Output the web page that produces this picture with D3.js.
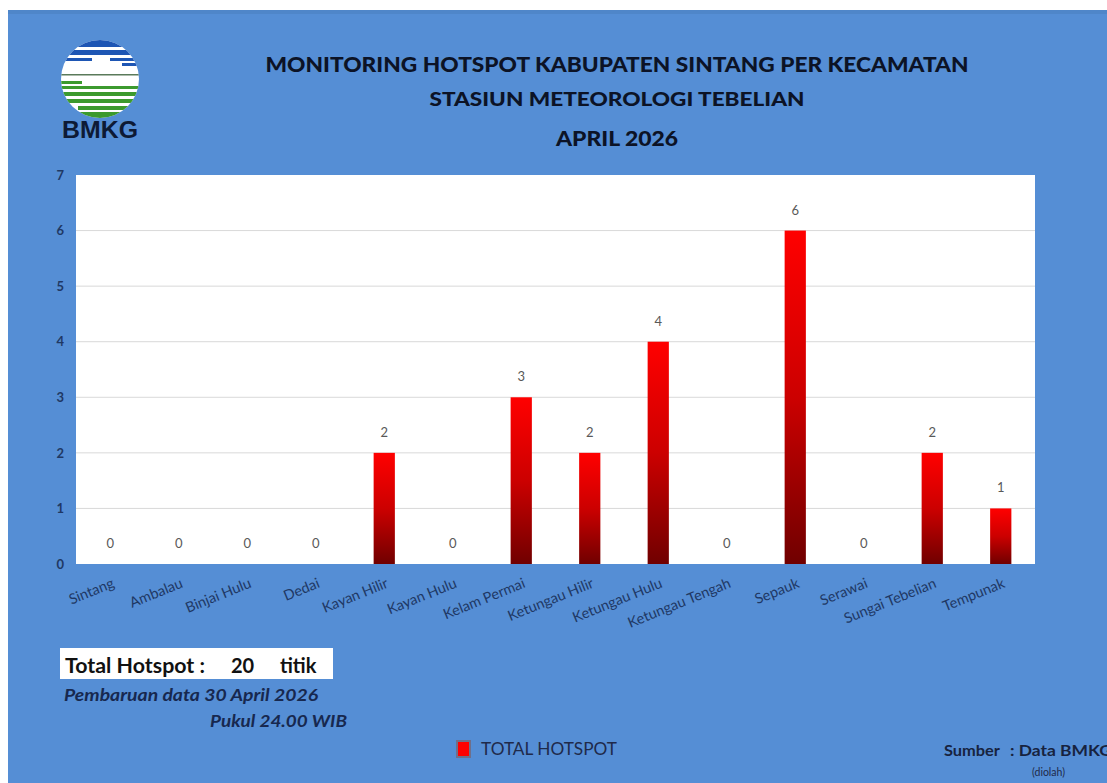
<!DOCTYPE html>
<html>
<head>
<meta charset="utf-8">
<script src="https://cdn.jsdelivr.net/npm/d3@7"></script>
<style>
  body { margin: 0; background: #fff; }
  text { font-family: Lato, "Open Sans", sans-serif; }
</style>
</head>
<body>
<div id="chart"></div>
<script>
// hotspot counts per kecamatan, April 2026
var categories = ["Sintang", "Ambalau", "Binjai Hulu", "Dedai", "Kayan Hilir", "Kayan Hulu",
                  "Kelam Permai", "Ketungau Hilir", "Ketungau Hulu", "Ketungau Tengah",
                  "Sepauk", "Serawai", "Sungai Tebelian", "Tempunak"];
var values = [0, 0, 0, 0, 2, 0, 3, 2, 4, 0, 6, 0, 2, 1];
var yTicks = [0, 1, 2, 3, 4, 5, 6, 7];
var titleLines = ["MONITORING HOTSPOT KABUPATEN SINTANG PER KECAMATAN",
                  "STASIUN METEOROLOGI TEBELIAN",
                  "APRIL 2026"];
var totalHotspot = d3.sum(values);

var W = 1107, H = 783;
var svg = d3.select("#chart").append("svg").attr("width", W).attr("height", H);

// blue panel
svg.append("rect").attr("x", 8).attr("y", 10).attr("width", W - 8).attr("height", H - 10)
   .attr("fill", "#558ed5");
svg.append("rect").attr("x", 8).attr("y", 10).attr("width", W - 8).attr("height", 4)
   .attr("fill", "#4f86c9");

var plot = {left: 76, top: 175, right: 1035, bottom: 564};

var x = d3.scaleBand().domain(categories).range([plot.left, plot.right]).paddingInner(0.69).paddingOuter(0.345);
var y = d3.scaleLinear().domain([0, 7]).range([plot.bottom, plot.top]);

var defs = svg.append("defs");
var grad = defs.append("linearGradient").attr("id", "barGrad")
  .attr("x1", 0).attr("y1", 0).attr("x2", 0).attr("y2", 1);
grad.append("stop").attr("offset", "0%").attr("stop-color", "#ff0000");
grad.append("stop").attr("offset", "50%").attr("stop-color", "#cc0000");
grad.append("stop").attr("offset", "100%").attr("stop-color", "#700000");

// plot area
svg.append("rect").attr("x", plot.left).attr("y", plot.top)
   .attr("width", plot.right - plot.left).attr("height", plot.bottom - plot.top)
   .attr("fill", "#fff");

svg.append("g").selectAll("line").data(yTicks.filter(function(d) { return d > 0 && d < 7; }))
  .enter().append("line")
  .attr("x1", plot.left).attr("x2", plot.right)
  .attr("y1", function(d) { return y(d); }).attr("y2", function(d) { return y(d); })
  .attr("stroke", "#d9d9d9").attr("stroke-width", 1);

// y axis labels
var yAxis = svg.append("g").attr("transform", "translate(" + plot.left + ",0)")
  .call(d3.axisLeft(y).tickValues(yTicks).tickSize(0).tickPadding(12).tickFormat(d3.format("d")));
yAxis.select(".domain").remove();
yAxis.selectAll("text").attr("fill", "#1f3864").attr("font-size", 13).attr("font-weight", "bold")
  .style("font-family", "Lato, sans-serif");

// bars
svg.append("g").selectAll("rect").data(values).enter().append("rect")
  .attr("x", function(d, i) { return x(categories[i]); })
  .attr("y", function(d) { return y(d); })
  .attr("width", x.bandwidth())
  .attr("height", function(d) { return y(0) - y(d); })
  .attr("fill", "url(#barGrad)");

// value labels
svg.append("g").selectAll("text").data(values).enter().append("text")
  .attr("x", function(d, i) { return x(categories[i]) + x.bandwidth() / 2; })
  .attr("y", function(d) { return y(d) - 16; })
  .attr("text-anchor", "middle")
  .attr("font-size", 13).attr("fill", "#595959")
  .text(function(d) { return d; });

// category labels
var xAxis = svg.append("g").attr("transform", "translate(0," + plot.bottom + ")")
  .call(d3.axisBottom(x).tickSize(0).tickPadding(0));
xAxis.select(".domain").remove();
xAxis.selectAll("text")
  .attr("text-anchor", "end")
  .attr("fill", "#1f3864")
  .attr("font-size", 14.5)
  .attr("dy", 0).attr("y", 0)
  .attr("transform", "translate(5,23) rotate(-22)")
  .style("font-family", "Lato, sans-serif");

// title
var titleY = [72, 106, 146];
var titleSize = [21, 19, 20];
var titleLen = [703, 375, 122];
svg.append("g").selectAll("text").data(titleLines).enter().append("text")
  .attr("x", 617).attr("y", function(d, i) { return titleY[i]; })
  .attr("text-anchor", "middle")
  .attr("font-size", function(d, i) { return titleSize[i]; })
  .attr("font-weight", "900").attr("fill", "#0c1326")
  .attr("textLength", function(d, i) { return titleLen[i]; })
  .attr("lengthAdjust", "spacingAndGlyphs")
  .text(function(d) { return d; });

// BMKG logo
var logo = svg.append("g").attr("transform", "translate(100,79)");
defs.append("clipPath").attr("id", "logoClip").append("circle").attr("r", 39);
var lg = logo.append("g").attr("clip-path", "url(#logoClip)");
lg.append("rect").attr("x", -40).attr("y", -40).attr("width", 80).attr("height", 80).attr("fill", "#fff");
var stripes = [
  {y: -40, h: 8, c: "#1e56b4", x: -40, w: 80},
  {y: -29, h: 5, c: "#1e56b4", x: -40, w: 80},
  {y: -21, h: 3, c: "#1e56b4", x: -40, w: 32},
  {y: -21, h: 3, c: "#1e56b4", x: 10, w: 30},
  {y: -16, h: 3, c: "#1e56b4", x: 22, w: 18},
  {y: -5, h: 1.5, c: "#5a7a5a", x: -40, w: 80},
  {y: 2, h: 3, c: "#3c9a2e", x: -40, w: 22},
  {y: 7, h: 3, c: "#3c9a2e", x: -40, w: 80},
  {y: 13, h: 4, c: "#3c9a2e", x: -40, w: 80},
  {y: 20, h: 4, c: "#3c9a2e", x: -40, w: 80},
  {y: 27, h: 4, c: "#3c9a2e", x: -22, w: 62},
  {y: 33, h: 8, c: "#3c9a2e", x: -40, w: 80}
];
lg.selectAll("rect.s").data(stripes).enter().append("rect").attr("class", "s")
  .attr("x", function(d) { return d.x; }).attr("y", function(d) { return d.y; })
  .attr("width", function(d) { return d.w; }).attr("height", function(d) { return d.h; })
  .attr("fill", function(d) { return d.c; });
svg.append("text").attr("x", 100).attr("y", 138).attr("text-anchor", "middle")
  .attr("font-size", 23).attr("font-weight", "bold").attr("fill", "#0d1a35")
  .attr("textLength", 76).attr("lengthAdjust", "spacingAndGlyphs")
  .style("font-family", "'Liberation Sans', Arial, sans-serif")
  .text("BMKG");

// total box
svg.append("rect").attr("x", 60).attr("y", 648).attr("width", 273).attr("height", 31).attr("fill", "#fff");
svg.append("text").attr("x", 65).attr("y", 673).attr("font-size", 20).attr("font-weight", "bold")
  .attr("fill", "#111").attr("textLength", 140).attr("lengthAdjust", "spacingAndGlyphs")
  .text("Total Hotspot :");
svg.append("text").attr("x", 231).attr("y", 673).attr("font-size", 20).attr("font-weight", "bold")
  .attr("fill", "#111").text(totalHotspot);
svg.append("text").attr("x", 280).attr("y", 673).attr("font-size", 20).attr("font-weight", "bold")
  .attr("fill", "#111").text("titik");

svg.append("text").attr("x", 64).attr("y", 701).attr("font-size", 17.5).attr("font-weight", "bold")
  .attr("font-style", "italic").attr("fill", "#17284f")
  .attr("textLength", 254).attr("lengthAdjust", "spacingAndGlyphs")
  .text("Pembaruan data 30 April 2026");
svg.append("text").attr("x", 210).attr("y", 727).attr("font-size", 17.5).attr("font-weight", "bold")
  .attr("font-style", "italic").attr("fill", "#17284f")
  .attr("textLength", 137).attr("lengthAdjust", "spacingAndGlyphs")
  .text("Pukul 24.00 WIB");

// legend
svg.append("rect").attr("x", 457).attr("y", 741).attr("width", 13).attr("height", 16)
  .attr("fill", "#ff0000").attr("stroke", "#6f6f8a").attr("stroke-width", 2);
svg.append("text").attr("x", 481).attr("y", 755).attr("font-size", 16.5).attr("fill", "#1f2a4a")
  .attr("textLength", 136).attr("lengthAdjust", "spacingAndGlyphs")
  .text("TOTAL HOTSPOT");

// source
svg.append("text").attr("x", 944).attr("y", 756).attr("font-size", 15.5).attr("font-weight", "bold")
  .attr("fill", "#17233f").attr("textLength", 56).attr("lengthAdjust", "spacingAndGlyphs")
  .text("Sumber");
svg.append("text").attr("x", 1010).attr("y", 756).attr("font-size", 15.5).attr("font-weight", "bold")
  .attr("fill", "#17233f").attr("textLength", 102).attr("lengthAdjust", "spacingAndGlyphs")
  .text(": Data BMKG");
svg.append("text").attr("x", 1032).attr("y", 776).attr("font-size", 10.5).attr("fill", "#1f2a4a")
  .text("(diolah)");
</script>
</body>
</html>
